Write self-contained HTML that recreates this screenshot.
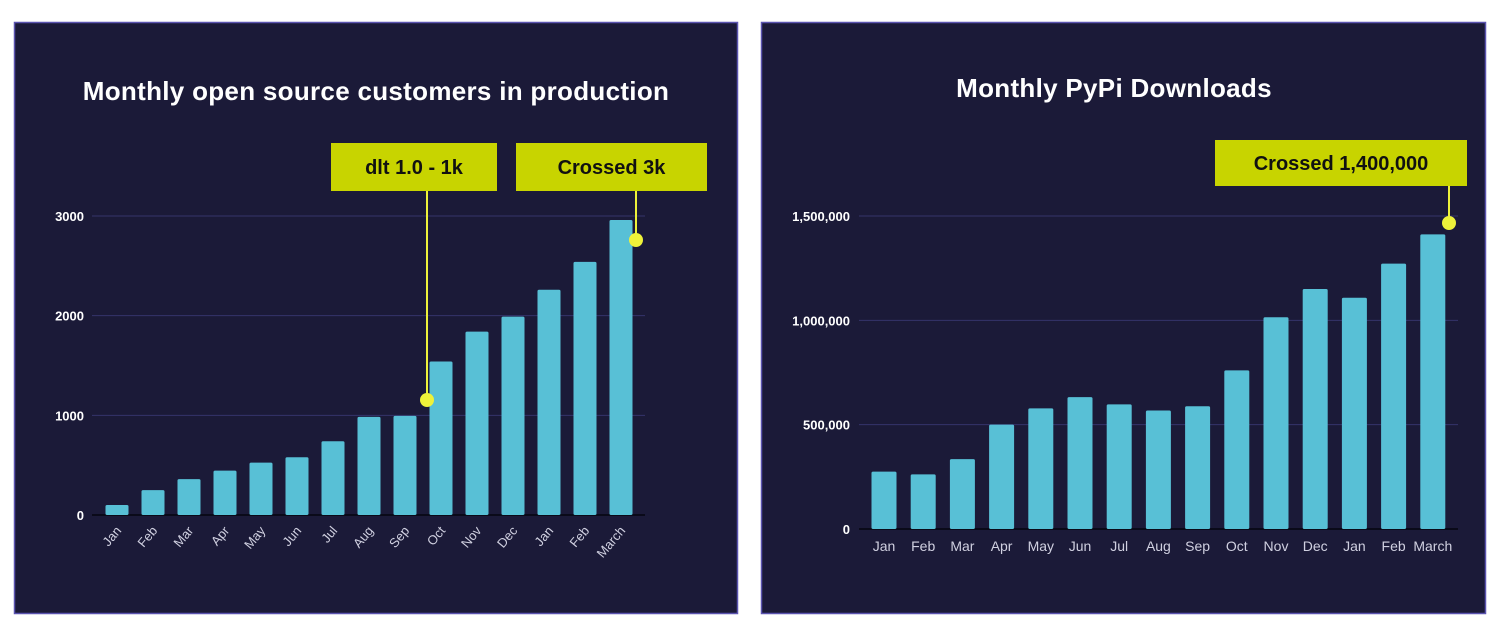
<!DOCTYPE html>
<html><head><meta charset="utf-8"><style>
body{margin:0;background:#fff;width:1500px;height:634px;overflow:hidden;font-family:"Liberation Sans",sans-serif}
svg{position:absolute;left:0;top:0}
</style></head><body>
<svg width="1500" height="634">
<rect x="14.5" y="22.5" width="723" height="591" fill="#1b1a38" stroke="#5b54b0" stroke-width="1.5"/>
<rect x="761.5" y="22.5" width="724" height="591" fill="#1b1a38" stroke="#5b54b0" stroke-width="1.5"/>
<text x="376" y="100" text-anchor="middle" fill="#fff" font-size="26" font-weight="bold" letter-spacing="0.3">Monthly open source customers in production</text>
<text x="1114" y="97" text-anchor="middle" fill="#fff" font-size="26" font-weight="bold" letter-spacing="0.3">Monthly PyPi Downloads</text>
<g id="c1"></g><g id="c2"></g>
</svg>
<script>
const months=["Jan","Feb","Mar","Apr","May","Jun","Jul","Aug","Sep","Oct","Nov","Dec","Jan","Feb","March"];
const customers=[100,250,360,445,525,580,740,985,995,1540,1840,1990,2260,2540,2960];
const customerTicks=[0,1000,2000,3000];
const downloads=[275000,262000,335000,500000,578000,632000,597000,568000,588000,760000,1015000,1150000,1108000,1272000,1412000];
const downloadTicks=[0,500000,1000000,1500000];
const NS="http://www.w3.org/2000/svg";
function mk(p,t,a,txt){const e=document.createElementNS(NS,t);for(const k in a)e.setAttribute(k,a[k]);if(txt!=null)e.textContent=txt;p.appendChild(e);return e;}
function chart(g,vals,ticks,o){
  const y=v=>o.y0-(v/o.max)*(o.y0-o.yTop);
  const x=i=>o.xFirst+i*o.step;
  ticks.forEach(t=>{
    const ln=mk(g,"line",{x1:o.axL,x2:o.axR,y1:y(t),y2:y(t),stroke:t===0?"#05050f":"#35346a","stroke-width":t===0?1.5:1});
    
    
    const tx=mk(g,"text",{x:o.labX,y:y(t)+5,"text-anchor":"end",fill:"#fff","font-size":13,"font-weight":"bold"},o.fmt(t));
    
    
  });
  vals.forEach((v,i)=>{
    const r=mk(g,"rect",{x:x(i)-o.bw/2,y:y(v),width:o.bw,height:o.y0-y(v),fill:"#58c0d6",rx:1.5});
    
    
    let tx;
    if(o.rot){tx=mk(g,"text",{x:x(i)+5,y:o.y0+16,"text-anchor":"end",fill:"#d0d0e0","font-size":13,transform:`rotate(-50 ${x(i)+5} ${o.y0+16})`},months[i]);}
    else{tx=mk(g,"text",{x:x(i),y:o.y0+22,"text-anchor":"middle",fill:"#d0d0e0","font-size":14},months[i]);}
    
    
  });
}
function annot(g,bx,by,bw,bh,label,lx,dy){
  const r=mk(g,"rect",{x:bx,y:by,width:bw,height:bh,fill:"#c8d400"});
  
  
  const t=mk(g,"text",{x:bx+bw/2,y:by+bh/2+7,"text-anchor":"middle",fill:"#111","font-size":20,"font-weight":"bold"},label);
  
  
  const l=mk(g,"line",{x1:lx,x2:lx,y1:by+bh,y2:dy,stroke:"#eef23a","stroke-width":2});
  
  
  const c=mk(g,"circle",{cx:lx,cy:dy,r:7,fill:"#eef23a"});
  
  
}
const g1=document.getElementById("c1"),g2=document.getElementById("c2");
chart(g1,customers,customerTicks,{y0:515,yTop:216,max:3000,xFirst:117,step:36,bw:23,axL:92,axR:645,labX:84,rot:true,fmt:v=>String(v)});
chart(g2,downloads,downloadTicks,{y0:529,yTop:216,max:1500000,xFirst:884,step:39.2,bw:25,axL:859,axR:1458,labX:850,rot:false,fmt:v=>v.toLocaleString("en-US")});
annot(g1,331,143,166,48,"dlt 1.0 - 1k",427,400);
annot(g1,516,143,191,48,"Crossed 3k",636,240);
annot(g2,1215,140,252,46,"Crossed 1,400,000",1449,223);
</script>
</body></html>
